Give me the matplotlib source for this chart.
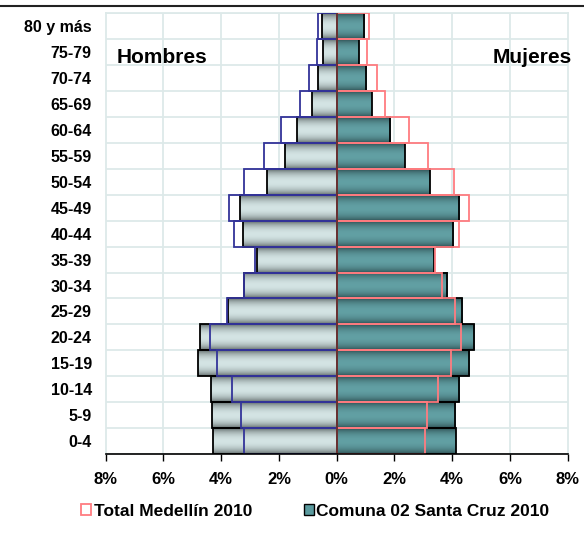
import matplotlib
matplotlib.use("Agg")
import matplotlib.pyplot as plt
from matplotlib.patches import Patch
from matplotlib.lines import Line2D
import numpy as np

plt.rcParams['font.family'] = ['Liberation Sans', 'DejaVu Sans']
plt.rcParams['font.weight'] = 'bold'

grupos = ['0-4', '5-9', '10-14', '15-19', '20-24', '25-29', '30-34', '35-39',
          '40-44', '45-49', '50-54', '55-59', '60-64', '65-69', '70-74', '75-79',
          '80 y más']

# % of population, bottom (0-4) to top (80 y más)
comuna_h = [4.29, 4.31, 4.36, 4.79, 4.74, 3.78, 3.20, 2.75, 3.26, 3.34,
            2.41, 1.79, 1.37, 0.86, 0.65, 0.46, 0.50]
comuna_m = [4.12, 4.11, 4.25, 4.58, 4.77, 4.33, 3.83, 3.38, 4.02, 4.25,
            3.22, 2.35, 1.86, 1.21, 1.03, 0.76, 0.94]
medellin_h = [3.20, 3.30, 3.63, 4.15, 4.40, 3.81, 3.22, 2.84, 3.56, 3.74,
              3.22, 2.53, 1.94, 1.26, 0.97, 0.69, 0.64]
medellin_m = [3.06, 3.14, 3.52, 3.96, 4.30, 4.10, 3.66, 3.40, 4.23, 4.59,
              4.06, 3.17, 2.49, 1.68, 1.40, 1.05, 1.12]

xticks = [-8, -6, -4, -2, 0, 2, 4, 6, 8]

fig = plt.figure(figsize=(5.84, 5.37), dpi=100)
ax = fig.add_axes([0.181, 0.1545, 0.791, 0.8207])

y = np.arange(len(grupos))


def gradient(dark, light, n=64):
    t = np.linspace(0, 1, n)
    w = np.sin(np.pi * t) ** 0.6
    d = np.array(matplotlib.colors.to_rgb(dark))
    l = np.array(matplotlib.colors.to_rgb(light))
    g = d[None, :] * (1 - w[:, None]) + l[None, :] * w[:, None]
    return g[:, None, :]


grad_h = gradient('#505a5a', '#d4e4e4')
grad_m = gradient('#274548', '#62a0a4')

bars_h = ax.barh(y, [-v for v in comuna_h], height=1.0, facecolor='none',
                 edgecolor='black', linewidth=1.3, zorder=3)
bars_m = ax.barh(y, comuna_m, height=1.0, facecolor='none',
                 edgecolor='black', linewidth=1.3, zorder=3)

for bars, g in [(bars_h, grad_h), (bars_m, grad_m)]:
    for b in bars:
        x0, y0 = b.get_x(), b.get_y()
        x1, y1 = x0 + b.get_width(), y0 + b.get_height()
        ax.imshow(g, extent=[min(x0, x1), max(x0, x1), y0, y1], aspect='auto',
                  interpolation='bilinear', origin='lower', zorder=2)

ax.barh(y, [-v for v in medellin_h], height=1.0, facecolor='none',
        edgecolor='#333399', linewidth=1.3, zorder=4)
ax.barh(y, medellin_m, height=1.0, facecolor='none',
        edgecolor='#ff7c80', linewidth=1.3, zorder=4)

ax.axvline(0, color='#5a2a2a', linewidth=1.3, zorder=5)

ax.set_xlim(-8, 8)
ax.set_ylim(-0.5, len(grupos) - 0.5)
ax.set_xticks(xticks)
ax.set_xticklabels([f'{abs(v)}%' for v in xticks], fontsize=12, fontweight='bold')
ax.set_yticks(y)
ax.set_yticklabels(grupos, fontsize=11.5, fontweight='bold')
ax.tick_params(axis='y', length=0, pad=10)
ax.tick_params(axis='x', length=5, width=1, direction='out', pad=8)

for v in xticks[1:-1]:
    ax.axvline(v, color='#dde9e9', linewidth=1.3, zorder=0)
for v in np.arange(-0.5, len(grupos), 1.0):
    ax.axhline(v, color='#dde9e9', linewidth=1.3, zorder=0)

for s in ['left', 'right', 'top']:
    ax.spines[s].set_color('#dde9e9')
    ax.spines[s].set_linewidth(1.3)
ax.spines['bottom'].set_color('black')
ax.spines['bottom'].set_linewidth(1.2)
ax.spines['bottom'].set_zorder(6)

fig.text(117 / 584, 1 - 62.7 / 537, 'Hombres', fontsize=15, fontweight='bold',
         ha='left', va='baseline')
fig.text(572 / 584, 1 - 62.7 / 537, 'Mujeres', fontsize=15, fontweight='bold',
         ha='right', va='baseline')

fig.add_artist(Line2D([0, 1], [1 - 5.7 / 537, 1 - 5.7 / 537],
                      color='#222222', linewidth=1.5, transform=fig.transFigure))

handles = [Patch(facecolor='white', edgecolor='#ff7c80', linewidth=1.3),
           Patch(facecolor='#5a9a9e', edgecolor='black', linewidth=1.0)]
fig.legend(handles, ['Total Medellín 2010', 'Comuna 02 Santa Cruz 2010'],
           loc='center', bbox_to_anchor=(0.54, 1 - 511 / 537), ncol=2,
           frameon=False, prop={'size': 12.5, 'weight': 'bold'},
           handlelength=0.55, handleheight=0.55, handletextpad=0.15,
           columnspacing=3.0)

fig.savefig('out.png', dpi=100)
